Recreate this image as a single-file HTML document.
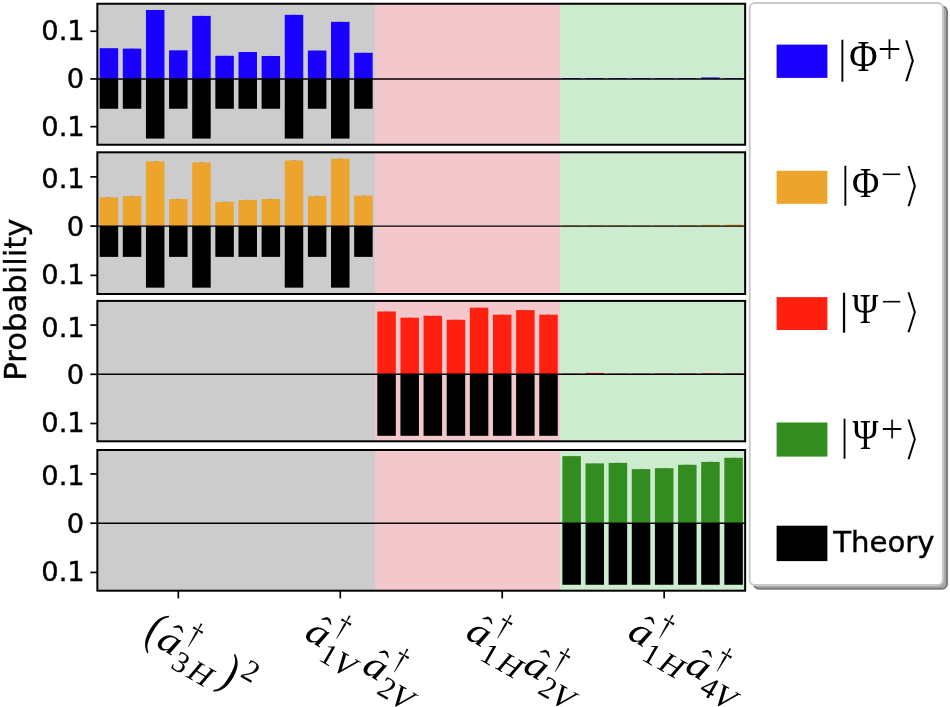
<!DOCTYPE html>
<html><head><meta charset="utf-8"><title>Probability</title>
<style>html,body{margin:0;padding:0;background:#fff}svg{display:block}</style></head>
<body>
<svg width="950" height="707" viewBox="0 0 950 707">
<rect width="950" height="707" fill="#fff"/>
<rect x="97.35" y="3.75" width="277.63" height="141.00" fill="#cccccc"/>
<rect x="374.98" y="3.75" width="185.09" height="141.00" fill="#f3c8cc"/>
<rect x="560.06" y="3.75" width="185.09" height="141.00" fill="#cdebcf"/>
<rect x="99.67" y="48.20" width="18.50" height="30.75" fill="#1a00ff"/>
<rect x="122.80" y="48.60" width="18.50" height="30.35" fill="#1a00ff"/>
<rect x="145.94" y="10.00" width="18.50" height="68.95" fill="#1a00ff"/>
<rect x="169.07" y="50.30" width="18.50" height="28.65" fill="#1a00ff"/>
<rect x="192.21" y="15.90" width="18.50" height="63.05" fill="#1a00ff"/>
<rect x="215.35" y="55.80" width="18.50" height="23.15" fill="#1a00ff"/>
<rect x="238.48" y="52.00" width="18.50" height="26.95" fill="#1a00ff"/>
<rect x="261.62" y="56.00" width="18.50" height="22.95" fill="#1a00ff"/>
<rect x="284.75" y="14.85" width="18.50" height="64.10" fill="#1a00ff"/>
<rect x="307.89" y="50.50" width="18.50" height="28.45" fill="#1a00ff"/>
<rect x="331.02" y="21.85" width="18.50" height="57.10" fill="#1a00ff"/>
<rect x="354.16" y="52.80" width="18.50" height="26.15" fill="#1a00ff"/>
<rect x="562.38" y="78.15" width="18.50" height="0.80" fill="#1a00ff"/>
<rect x="585.52" y="78.15" width="18.50" height="0.80" fill="#1a00ff"/>
<rect x="608.65" y="78.15" width="18.50" height="0.80" fill="#1a00ff"/>
<rect x="631.79" y="78.15" width="18.50" height="0.80" fill="#1a00ff"/>
<rect x="654.92" y="78.15" width="18.50" height="0.80" fill="#1a00ff"/>
<rect x="678.06" y="78.15" width="18.50" height="0.80" fill="#1a00ff"/>
<rect x="701.20" y="77.45" width="18.50" height="1.50" fill="#1a00ff"/>
<rect x="724.33" y="78.15" width="18.50" height="0.80" fill="#1a00ff"/>
<rect x="106.92" y="47.90" width="4.00" height="0.60" fill="#444" opacity="0.3"/>
<rect x="130.05" y="48.30" width="4.00" height="0.60" fill="#444" opacity="0.3"/>
<rect x="153.19" y="9.70" width="4.00" height="0.60" fill="#444" opacity="0.3"/>
<rect x="176.32" y="50.00" width="4.00" height="0.60" fill="#444" opacity="0.3"/>
<rect x="199.46" y="15.60" width="4.00" height="0.60" fill="#444" opacity="0.3"/>
<rect x="222.60" y="55.50" width="4.00" height="0.60" fill="#444" opacity="0.3"/>
<rect x="245.73" y="51.70" width="4.00" height="0.60" fill="#444" opacity="0.3"/>
<rect x="268.87" y="55.70" width="4.00" height="0.60" fill="#444" opacity="0.3"/>
<rect x="292.00" y="14.55" width="4.00" height="0.60" fill="#444" opacity="0.3"/>
<rect x="315.14" y="50.20" width="4.00" height="0.60" fill="#444" opacity="0.3"/>
<rect x="338.27" y="21.55" width="4.00" height="0.60" fill="#444" opacity="0.3"/>
<rect x="361.41" y="52.50" width="4.00" height="0.60" fill="#444" opacity="0.3"/>
<rect x="99.67" y="78.95" width="18.50" height="29.81" fill="#000"/>
<rect x="122.80" y="78.95" width="18.50" height="29.81" fill="#000"/>
<rect x="145.94" y="78.95" width="18.50" height="59.62" fill="#000"/>
<rect x="169.07" y="78.95" width="18.50" height="29.81" fill="#000"/>
<rect x="192.21" y="78.95" width="18.50" height="59.62" fill="#000"/>
<rect x="215.35" y="78.95" width="18.50" height="29.81" fill="#000"/>
<rect x="238.48" y="78.95" width="18.50" height="29.81" fill="#000"/>
<rect x="261.62" y="78.95" width="18.50" height="29.81" fill="#000"/>
<rect x="284.75" y="78.95" width="18.50" height="59.62" fill="#000"/>
<rect x="307.89" y="78.95" width="18.50" height="29.81" fill="#000"/>
<rect x="331.02" y="78.95" width="18.50" height="59.62" fill="#000"/>
<rect x="354.16" y="78.95" width="18.50" height="29.81" fill="#000"/>
<line x1="97.35" x2="745.15" y1="78.95" y2="78.95" stroke="#000" stroke-width="1.4"/>
<rect x="97.35" y="3.75" width="647.80" height="141.00" fill="none" stroke="#000" stroke-width="2"/>
<line x1="90.35" x2="97.35" y1="31.25" y2="31.25" stroke="#000" stroke-width="1.7"/>
<text x="84.75" y="40.20" text-anchor="end" font-size="27.3" font-family="'DejaVu Sans','Liberation Sans',sans-serif" fill="#000" stroke="#000" stroke-width="0.4">0.1</text>
<line x1="90.35" x2="97.35" y1="78.95" y2="78.95" stroke="#000" stroke-width="1.7"/>
<text x="84.15" y="87.90" text-anchor="end" font-size="27.3" font-family="'DejaVu Sans','Liberation Sans',sans-serif" fill="#000" stroke="#000" stroke-width="0.4">0</text>
<line x1="90.35" x2="97.35" y1="126.65" y2="126.65" stroke="#000" stroke-width="1.7"/>
<text x="84.75" y="135.70" text-anchor="end" font-size="27.3" font-family="'DejaVu Sans','Liberation Sans',sans-serif" fill="#000" stroke="#000" stroke-width="0.4">0.1</text>
<rect x="97.35" y="152.30" width="277.63" height="141.70" fill="#cccccc"/>
<rect x="374.98" y="152.30" width="185.09" height="141.70" fill="#f3c8cc"/>
<rect x="560.06" y="152.30" width="185.09" height="141.70" fill="#cdebcf"/>
<rect x="99.67" y="197.40" width="18.50" height="28.70" fill="#eca42c"/>
<rect x="122.80" y="196.20" width="18.50" height="29.90" fill="#eca42c"/>
<rect x="145.94" y="161.40" width="18.50" height="64.70" fill="#eca42c"/>
<rect x="169.07" y="199.10" width="18.50" height="27.00" fill="#eca42c"/>
<rect x="192.21" y="162.40" width="18.50" height="63.70" fill="#eca42c"/>
<rect x="215.35" y="201.90" width="18.50" height="24.20" fill="#eca42c"/>
<rect x="238.48" y="200.00" width="18.50" height="26.10" fill="#eca42c"/>
<rect x="261.62" y="199.10" width="18.50" height="27.00" fill="#eca42c"/>
<rect x="284.75" y="160.50" width="18.50" height="65.60" fill="#eca42c"/>
<rect x="307.89" y="196.20" width="18.50" height="29.90" fill="#eca42c"/>
<rect x="331.02" y="158.80" width="18.50" height="67.30" fill="#eca42c"/>
<rect x="354.16" y="195.70" width="18.50" height="30.40" fill="#eca42c"/>
<rect x="562.38" y="225.30" width="18.50" height="0.80" fill="#eca42c"/>
<rect x="585.52" y="225.30" width="18.50" height="0.80" fill="#eca42c"/>
<rect x="608.65" y="225.30" width="18.50" height="0.80" fill="#eca42c"/>
<rect x="631.79" y="225.40" width="18.50" height="0.70" fill="#eca42c"/>
<rect x="654.92" y="225.40" width="18.50" height="0.70" fill="#eca42c"/>
<rect x="678.06" y="225.10" width="18.50" height="1.00" fill="#eca42c"/>
<rect x="701.20" y="224.80" width="18.50" height="1.30" fill="#eca42c"/>
<rect x="724.33" y="224.60" width="18.50" height="1.50" fill="#eca42c"/>
<rect x="106.92" y="197.10" width="4.00" height="0.60" fill="#444" opacity="0.3"/>
<rect x="130.05" y="195.90" width="4.00" height="0.60" fill="#444" opacity="0.3"/>
<rect x="153.19" y="161.10" width="4.00" height="0.60" fill="#444" opacity="0.3"/>
<rect x="176.32" y="198.80" width="4.00" height="0.60" fill="#444" opacity="0.3"/>
<rect x="199.46" y="162.10" width="4.00" height="0.60" fill="#444" opacity="0.3"/>
<rect x="222.60" y="201.60" width="4.00" height="0.60" fill="#444" opacity="0.3"/>
<rect x="245.73" y="199.70" width="4.00" height="0.60" fill="#444" opacity="0.3"/>
<rect x="268.87" y="198.80" width="4.00" height="0.60" fill="#444" opacity="0.3"/>
<rect x="292.00" y="160.20" width="4.00" height="0.60" fill="#444" opacity="0.3"/>
<rect x="315.14" y="195.90" width="4.00" height="0.60" fill="#444" opacity="0.3"/>
<rect x="338.27" y="158.50" width="4.00" height="0.60" fill="#444" opacity="0.3"/>
<rect x="361.41" y="195.40" width="4.00" height="0.60" fill="#444" opacity="0.3"/>
<rect x="99.67" y="226.10" width="18.50" height="30.78" fill="#000"/>
<rect x="122.80" y="226.10" width="18.50" height="30.78" fill="#000"/>
<rect x="145.94" y="226.10" width="18.50" height="61.56" fill="#000"/>
<rect x="169.07" y="226.10" width="18.50" height="30.78" fill="#000"/>
<rect x="192.21" y="226.10" width="18.50" height="61.56" fill="#000"/>
<rect x="215.35" y="226.10" width="18.50" height="30.78" fill="#000"/>
<rect x="238.48" y="226.10" width="18.50" height="30.78" fill="#000"/>
<rect x="261.62" y="226.10" width="18.50" height="30.78" fill="#000"/>
<rect x="284.75" y="226.10" width="18.50" height="61.56" fill="#000"/>
<rect x="307.89" y="226.10" width="18.50" height="30.78" fill="#000"/>
<rect x="331.02" y="226.10" width="18.50" height="61.56" fill="#000"/>
<rect x="354.16" y="226.10" width="18.50" height="30.78" fill="#000"/>
<line x1="97.35" x2="745.15" y1="226.1" y2="226.1" stroke="#000" stroke-width="1.4"/>
<rect x="97.35" y="152.3" width="647.80" height="141.70" fill="none" stroke="#000" stroke-width="2"/>
<line x1="90.35" x2="97.35" y1="176.85" y2="176.85" stroke="#000" stroke-width="1.7"/>
<text x="84.75" y="188.20" text-anchor="end" font-size="27.3" font-family="'DejaVu Sans','Liberation Sans',sans-serif" fill="#000" stroke="#000" stroke-width="0.4">0.1</text>
<line x1="90.35" x2="97.35" y1="226.10" y2="226.10" stroke="#000" stroke-width="1.7"/>
<text x="84.15" y="235.90" text-anchor="end" font-size="27.3" font-family="'DejaVu Sans','Liberation Sans',sans-serif" fill="#000" stroke="#000" stroke-width="0.4">0</text>
<line x1="90.35" x2="97.35" y1="275.35" y2="275.35" stroke="#000" stroke-width="1.7"/>
<text x="84.75" y="283.70" text-anchor="end" font-size="27.3" font-family="'DejaVu Sans','Liberation Sans',sans-serif" fill="#000" stroke="#000" stroke-width="0.4">0.1</text>
<rect x="97.35" y="300.90" width="277.63" height="140.40" fill="#cccccc"/>
<rect x="374.98" y="300.90" width="185.09" height="140.40" fill="#f3c8cc"/>
<rect x="560.06" y="300.90" width="185.09" height="140.40" fill="#cdebcf"/>
<rect x="377.30" y="311.50" width="18.50" height="62.80" fill="#ff2010"/>
<rect x="400.43" y="317.70" width="18.50" height="56.60" fill="#ff2010"/>
<rect x="423.57" y="315.80" width="18.50" height="58.50" fill="#ff2010"/>
<rect x="446.70" y="319.80" width="18.50" height="54.50" fill="#ff2010"/>
<rect x="469.84" y="307.70" width="18.50" height="66.60" fill="#ff2010"/>
<rect x="492.97" y="314.70" width="18.50" height="59.60" fill="#ff2010"/>
<rect x="516.11" y="310.10" width="18.50" height="64.20" fill="#ff2010"/>
<rect x="539.25" y="314.70" width="18.50" height="59.60" fill="#ff2010"/>
<rect x="562.38" y="373.60" width="18.50" height="0.70" fill="#ff2010"/>
<rect x="585.52" y="372.90" width="18.50" height="1.40" fill="#ff2010"/>
<rect x="608.65" y="373.60" width="18.50" height="0.70" fill="#ff2010"/>
<rect x="631.79" y="373.60" width="18.50" height="0.70" fill="#ff2010"/>
<rect x="654.92" y="373.50" width="18.50" height="0.80" fill="#ff2010"/>
<rect x="678.06" y="373.50" width="18.50" height="0.80" fill="#ff2010"/>
<rect x="701.20" y="373.20" width="18.50" height="1.10" fill="#ff2010"/>
<rect x="724.33" y="373.40" width="18.50" height="0.90" fill="#ff2010"/>
<rect x="384.55" y="311.20" width="4.00" height="0.60" fill="#444" opacity="0.3"/>
<rect x="407.68" y="317.40" width="4.00" height="0.60" fill="#444" opacity="0.3"/>
<rect x="430.82" y="315.50" width="4.00" height="0.60" fill="#444" opacity="0.3"/>
<rect x="453.95" y="319.50" width="4.00" height="0.60" fill="#444" opacity="0.3"/>
<rect x="477.09" y="307.40" width="4.00" height="0.60" fill="#444" opacity="0.3"/>
<rect x="500.22" y="314.40" width="4.00" height="0.60" fill="#444" opacity="0.3"/>
<rect x="523.36" y="309.80" width="4.00" height="0.60" fill="#444" opacity="0.3"/>
<rect x="546.50" y="314.40" width="4.00" height="0.60" fill="#444" opacity="0.3"/>
<rect x="377.30" y="374.30" width="18.50" height="61.50" fill="#000"/>
<rect x="400.43" y="374.30" width="18.50" height="61.50" fill="#000"/>
<rect x="423.57" y="374.30" width="18.50" height="61.50" fill="#000"/>
<rect x="446.70" y="374.30" width="18.50" height="61.50" fill="#000"/>
<rect x="469.84" y="374.30" width="18.50" height="61.50" fill="#000"/>
<rect x="492.97" y="374.30" width="18.50" height="61.50" fill="#000"/>
<rect x="516.11" y="374.30" width="18.50" height="61.50" fill="#000"/>
<rect x="539.25" y="374.30" width="18.50" height="61.50" fill="#000"/>
<line x1="97.35" x2="745.15" y1="374.3" y2="374.3" stroke="#000" stroke-width="1.4"/>
<rect x="97.35" y="300.9" width="647.80" height="140.40" fill="none" stroke="#000" stroke-width="2"/>
<line x1="90.35" x2="97.35" y1="325.10" y2="325.10" stroke="#000" stroke-width="1.7"/>
<text x="84.75" y="336.60" text-anchor="end" font-size="27.3" font-family="'DejaVu Sans','Liberation Sans',sans-serif" fill="#000" stroke="#000" stroke-width="0.4">0.1</text>
<line x1="90.35" x2="97.35" y1="374.30" y2="374.30" stroke="#000" stroke-width="1.7"/>
<text x="84.15" y="384.30" text-anchor="end" font-size="27.3" font-family="'DejaVu Sans','Liberation Sans',sans-serif" fill="#000" stroke="#000" stroke-width="0.4">0</text>
<line x1="90.35" x2="97.35" y1="423.50" y2="423.50" stroke="#000" stroke-width="1.7"/>
<text x="84.75" y="432.20" text-anchor="end" font-size="27.3" font-family="'DejaVu Sans','Liberation Sans',sans-serif" fill="#000" stroke="#000" stroke-width="0.4">0.1</text>
<rect x="97.35" y="450.00" width="277.63" height="140.70" fill="#cccccc"/>
<rect x="374.98" y="450.00" width="185.09" height="140.70" fill="#f3c8cc"/>
<rect x="560.06" y="450.00" width="185.09" height="140.70" fill="#cdebcf"/>
<rect x="562.38" y="456.10" width="18.50" height="67.10" fill="#338c1f"/>
<rect x="585.52" y="463.40" width="18.50" height="59.80" fill="#338c1f"/>
<rect x="608.65" y="462.90" width="18.50" height="60.30" fill="#338c1f"/>
<rect x="631.79" y="469.10" width="18.50" height="54.10" fill="#338c1f"/>
<rect x="654.92" y="468.20" width="18.50" height="55.00" fill="#338c1f"/>
<rect x="678.06" y="464.80" width="18.50" height="58.40" fill="#338c1f"/>
<rect x="701.20" y="461.90" width="18.50" height="61.30" fill="#338c1f"/>
<rect x="724.33" y="457.80" width="18.50" height="65.40" fill="#338c1f"/>
<rect x="569.63" y="455.80" width="4.00" height="0.60" fill="#444" opacity="0.3"/>
<rect x="592.77" y="463.10" width="4.00" height="0.60" fill="#444" opacity="0.3"/>
<rect x="615.90" y="462.60" width="4.00" height="0.60" fill="#444" opacity="0.3"/>
<rect x="639.04" y="468.80" width="4.00" height="0.60" fill="#444" opacity="0.3"/>
<rect x="662.17" y="467.90" width="4.00" height="0.60" fill="#444" opacity="0.3"/>
<rect x="685.31" y="464.50" width="4.00" height="0.60" fill="#444" opacity="0.3"/>
<rect x="708.45" y="461.60" width="4.00" height="0.60" fill="#444" opacity="0.3"/>
<rect x="731.58" y="457.50" width="4.00" height="0.60" fill="#444" opacity="0.3"/>
<rect x="562.38" y="523.20" width="18.50" height="61.56" fill="#000"/>
<rect x="585.52" y="523.20" width="18.50" height="61.56" fill="#000"/>
<rect x="608.65" y="523.20" width="18.50" height="61.56" fill="#000"/>
<rect x="631.79" y="523.20" width="18.50" height="61.56" fill="#000"/>
<rect x="654.92" y="523.20" width="18.50" height="61.56" fill="#000"/>
<rect x="678.06" y="523.20" width="18.50" height="61.56" fill="#000"/>
<rect x="701.20" y="523.20" width="18.50" height="61.56" fill="#000"/>
<rect x="724.33" y="523.20" width="18.50" height="61.56" fill="#000"/>
<line x1="97.35" x2="745.15" y1="523.2" y2="523.2" stroke="#000" stroke-width="1.4"/>
<rect x="97.35" y="450.0" width="647.80" height="140.70" fill="none" stroke="#000" stroke-width="2"/>
<line x1="90.35" x2="97.35" y1="473.95" y2="473.95" stroke="#000" stroke-width="1.7"/>
<text x="84.75" y="485.20" text-anchor="end" font-size="27.3" font-family="'DejaVu Sans','Liberation Sans',sans-serif" fill="#000" stroke="#000" stroke-width="0.4">0.1</text>
<line x1="90.35" x2="97.35" y1="523.20" y2="523.20" stroke="#000" stroke-width="1.7"/>
<text x="84.15" y="532.90" text-anchor="end" font-size="27.3" font-family="'DejaVu Sans','Liberation Sans',sans-serif" fill="#000" stroke="#000" stroke-width="0.4">0</text>
<line x1="90.35" x2="97.35" y1="572.45" y2="572.45" stroke="#000" stroke-width="1.7"/>
<text x="84.75" y="580.70" text-anchor="end" font-size="27.3" font-family="'DejaVu Sans','Liberation Sans',sans-serif" fill="#000" stroke="#000" stroke-width="0.4">0.1</text>
<line x1="178.32" x2="178.32" y1="590.7" y2="598.4" stroke="#000" stroke-width="1.7"/>
<line x1="340.27" x2="340.27" y1="590.7" y2="598.4" stroke="#000" stroke-width="1.7"/>
<line x1="502.22" x2="502.22" y1="590.7" y2="598.4" stroke="#000" stroke-width="1.7"/>
<line x1="664.17" x2="664.17" y1="590.7" y2="598.4" stroke="#000" stroke-width="1.7"/>
<text transform="translate(25.6,299.6) rotate(-90)" text-anchor="middle" font-size="30.7" font-family="'DejaVu Sans','Liberation Sans',sans-serif" fill="#000" stroke="#000" stroke-width="0.4">Probability</text>
<rect x="753.9" y="6.6" width="193.15" height="582.1" rx="5" ry="5" fill="#a8a8a8" stroke="#7c7c7c" stroke-width="2"/>
<rect x="749.7" y="3.0" width="193.15" height="582.1" rx="5" ry="5" fill="#fff" stroke="#c9c9c9" stroke-width="2"/>
<rect x="776.60" y="44.60" width="50.80" height="33.30" fill="#1a00ff"/>
<rect x="776.60" y="170.80" width="50.80" height="33.00" fill="#eca42c"/>
<rect x="776.60" y="297.10" width="50.80" height="32.90" fill="#ff2010"/>
<rect x="776.60" y="422.50" width="50.80" height="34.10" fill="#338c1f"/>
<rect x="776.60" y="525.70" width="50.80" height="35.40" fill="#000"/>
<text x="833.2" y="551.8" font-size="29.2" font-family="'DejaVu Sans','Liberation Sans',sans-serif" fill="#000" stroke="#000" stroke-width="0.4">Theory</text>
<text transform="translate(837.60,71.62) scale(1.050,1)" font-size="45.71" font-family="'Liberation Serif',serif" stroke="#fff" stroke-width="0.3" fill="#000">|</text>
<text transform="translate(849.14,70.90) scale(0.892,1)" font-size="43.36" font-family="'Liberation Serif',serif" fill="#000">Φ</text>
<text x="877.45" y="62.72" font-size="42.47" font-family="'Liberation Serif',serif" stroke="#fff" stroke-width="0.25" fill="#000">+</text>
<text transform="translate(900.09,75.66) scale(1.031,1)" font-size="48.04" font-family="'DejaVu Sans',sans-serif" stroke="#fff" stroke-width="1.7" fill="#000">⟩</text>
<text transform="translate(840.50,197.09) scale(1.068,1)" font-size="44.95" font-family="'Liberation Serif',serif" stroke="#fff" stroke-width="0.3" fill="#000">|</text>
<text transform="translate(851.98,196.50) scale(0.873,1)" font-size="42.75" font-family="'Liberation Serif',serif" fill="#000">Φ</text>
<text x="880.78" y="187.42" font-size="37.96" font-family="'Liberation Serif',serif" stroke="#fff" stroke-width="0.25" fill="#000">−</text>
<text transform="translate(902.53,201.07) scale(1.010,1)" font-size="47.26" font-family="'DejaVu Sans',sans-serif" stroke="#fff" stroke-width="1.7" fill="#000">⟩</text>
<text transform="translate(839.20,323.50) scale(1.081,1)" font-size="44.40" font-family="'Liberation Serif',serif" stroke="#fff" stroke-width="0.3" fill="#000">|</text>
<text transform="translate(852.20,322.69) scale(0.846,1)" font-size="41.67" font-family="'Liberation Serif',serif" fill="#000">Ψ</text>
<text x="881.00" y="314.18" font-size="37.53" font-family="'Liberation Serif',serif" stroke="#fff" stroke-width="0.25" fill="#000">−</text>
<text transform="translate(902.53,327.44) scale(1.022,1)" font-size="46.70" font-family="'DejaVu Sans',sans-serif" stroke="#fff" stroke-width="1.7" fill="#000">⟩</text>
<text transform="translate(839.80,450.13) scale(1.084,1)" font-size="44.29" font-family="'Liberation Serif',serif" stroke="#fff" stroke-width="0.3" fill="#000">|</text>
<text transform="translate(852.60,449.29) scale(0.842,1)" font-size="41.67" font-family="'Liberation Serif',serif" fill="#000">Ψ</text>
<text x="880.67" y="441.54" font-size="40.11" font-family="'Liberation Serif',serif" stroke="#fff" stroke-width="0.25" fill="#000">+</text>
<text transform="translate(902.53,454.06) scale(1.024,1)" font-size="46.59" font-family="'DejaVu Sans',sans-serif" stroke="#fff" stroke-width="1.7" fill="#000">⟩</text>
<g transform="translate(168.60,643.40) rotate(30)">
<text transform="translate(-24.85,9.20) scale(0.800,1)" font-size="48.56" font-family="'Liberation Serif',serif" fill="#000">(</text>
<text transform="translate(-10.92,8.92) scale(1.158,1)" font-size="38.12" font-family="'Liberation Serif',serif" font-style="italic" fill="#000">a</text>
<text transform="translate(-4.68,1.24) scale(1.123,1)" font-size="32.00" font-family="'Liberation Serif',serif" fill="#000">ˆ</text>
<text transform="translate(12.55,-10.59) scale(0.758,1)" font-size="32.96" font-family="'Liberation Serif',serif" fill="#000">†</text>
<text transform="translate(12.69,20.30) scale(1.000,1)" font-size="29.85" font-family="'Liberation Serif',serif" fill="#000">3</text>
<text transform="translate(31.32,20.20) scale(1.052,1)" font-size="30.23" font-family="'Liberation Serif',serif" font-style="italic" fill="#000">H</text>
<text transform="translate(61.09,9.20) scale(0.832,1)" font-size="48.56" font-family="'Liberation Serif',serif" fill="#000">)</text>
<text transform="translate(77.45,-7.20) scale(1.000,1)" font-size="30.30" font-family="'Liberation Serif',serif" fill="#000">2</text>
</g>
<g transform="translate(316.90,635.50) rotate(30)">
<text transform="translate(-10.92,8.92) scale(1.158,1)" font-size="38.12" font-family="'Liberation Serif',serif" font-style="italic" fill="#000">a</text>
<text transform="translate(-4.68,1.24) scale(1.123,1)" font-size="32.00" font-family="'Liberation Serif',serif" fill="#000">ˆ</text>
<text transform="translate(12.55,-10.59) scale(0.758,1)" font-size="32.96" font-family="'Liberation Serif',serif" fill="#000">†</text>
<text transform="translate(12.35,20.60) scale(1.000,1)" font-size="30.30" font-family="'Liberation Serif',serif" fill="#000">1</text>
<text transform="translate(27.82,21.73) scale(1.062,1)" font-size="31.64" font-family="'Liberation Serif',serif" font-style="italic" fill="#000">V</text>
<text transform="translate(55.58,8.92) scale(1.158,1)" font-size="38.12" font-family="'Liberation Serif',serif" font-style="italic" fill="#000">a</text>
<text transform="translate(61.82,1.24) scale(1.123,1)" font-size="32.00" font-family="'Liberation Serif',serif" fill="#000">ˆ</text>
<text transform="translate(79.05,-10.59) scale(0.758,1)" font-size="32.96" font-family="'Liberation Serif',serif" fill="#000">†</text>
<text transform="translate(79.45,20.60) scale(1.000,1)" font-size="30.30" font-family="'Liberation Serif',serif" fill="#000">2</text>
<text transform="translate(94.32,21.73) scale(1.062,1)" font-size="31.64" font-family="'Liberation Serif',serif" font-style="italic" fill="#000">V</text>
</g>
<g transform="translate(477.90,635.00) rotate(30)">
<text transform="translate(-10.92,8.92) scale(1.158,1)" font-size="38.12" font-family="'Liberation Serif',serif" font-style="italic" fill="#000">a</text>
<text transform="translate(-4.68,1.24) scale(1.123,1)" font-size="32.00" font-family="'Liberation Serif',serif" fill="#000">ˆ</text>
<text transform="translate(12.55,-10.59) scale(0.758,1)" font-size="32.96" font-family="'Liberation Serif',serif" fill="#000">†</text>
<text transform="translate(12.35,20.60) scale(1.000,1)" font-size="30.30" font-family="'Liberation Serif',serif" fill="#000">1</text>
<text transform="translate(31.32,20.20) scale(1.052,1)" font-size="30.23" font-family="'Liberation Serif',serif" font-style="italic" fill="#000">H</text>
<text transform="translate(55.58,8.92) scale(1.158,1)" font-size="38.12" font-family="'Liberation Serif',serif" font-style="italic" fill="#000">a</text>
<text transform="translate(61.82,1.24) scale(1.123,1)" font-size="32.00" font-family="'Liberation Serif',serif" fill="#000">ˆ</text>
<text transform="translate(79.05,-10.59) scale(0.758,1)" font-size="32.96" font-family="'Liberation Serif',serif" fill="#000">†</text>
<text transform="translate(79.45,20.60) scale(1.000,1)" font-size="30.30" font-family="'Liberation Serif',serif" fill="#000">2</text>
<text transform="translate(94.32,21.73) scale(1.062,1)" font-size="31.64" font-family="'Liberation Serif',serif" font-style="italic" fill="#000">V</text>
</g>
<g transform="translate(639.80,635.00) rotate(30)">
<text transform="translate(-10.92,8.92) scale(1.158,1)" font-size="38.12" font-family="'Liberation Serif',serif" font-style="italic" fill="#000">a</text>
<text transform="translate(-4.68,1.24) scale(1.123,1)" font-size="32.00" font-family="'Liberation Serif',serif" fill="#000">ˆ</text>
<text transform="translate(12.55,-10.59) scale(0.758,1)" font-size="32.96" font-family="'Liberation Serif',serif" fill="#000">†</text>
<text transform="translate(12.35,20.60) scale(1.000,1)" font-size="30.30" font-family="'Liberation Serif',serif" fill="#000">1</text>
<text transform="translate(31.32,20.20) scale(1.052,1)" font-size="30.23" font-family="'Liberation Serif',serif" font-style="italic" fill="#000">H</text>
<text transform="translate(55.58,8.92) scale(1.158,1)" font-size="38.12" font-family="'Liberation Serif',serif" font-style="italic" fill="#000">a</text>
<text transform="translate(61.82,1.24) scale(1.123,1)" font-size="32.00" font-family="'Liberation Serif',serif" fill="#000">ˆ</text>
<text transform="translate(79.05,-10.59) scale(0.758,1)" font-size="32.96" font-family="'Liberation Serif',serif" fill="#000">†</text>
<text transform="translate(79.22,20.60) scale(1.000,1)" font-size="30.30" font-family="'Liberation Serif',serif" fill="#000">4</text>
<text transform="translate(94.32,21.73) scale(1.062,1)" font-size="31.64" font-family="'Liberation Serif',serif" font-style="italic" fill="#000">V</text>
</g>
</svg>
</body></html>
